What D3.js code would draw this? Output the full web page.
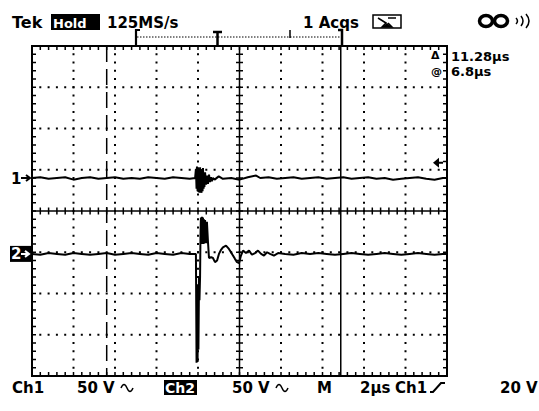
<!DOCTYPE html>
<html>
<head>
<meta charset="utf-8">
<script src="https://cdn.jsdelivr.net/npm/d3@7"></script>
<style>
  body { margin: 0; background: #fff; }
  text { font-family: 'DejaVu Sans', sans-serif; font-weight: bold; fill: #000; }
</style>
</head>
<body>
<script>
/* DATA */
// time in µs (0..20, 2 µs/div), volts (50 V/div)
var ch1Data = [
  [0,0],[0.4,1],[0.8,-1],[1.2,0],[1.6,1],[2.0,-2],[2.4,0],[2.8,1],[3.2,-1],[3.6,0],
  [4.0,1],[4.4,-1],[4.8,0],[5.2,-1],[5.6,1],[6.0,0],[6.4,-1],[6.8,1],[7.2,0],[7.6,-1],
  [7.86,0],[7.90,11],[7.93,-13],[7.95,14],[7.98,-16],[8.00,13],[8.02,-17],[8.05,11],
  [8.07,-18],[8.10,13],[8.12,-14],[8.14,11],[8.17,-18],[8.19,8],[8.22,-16],[8.24,12],
  [8.27,-13],[8.29,6],[8.31,-11],[8.34,7],[8.39,-8],[8.43,3],[8.48,-7],[8.53,4],
  [8.58,-5],[8.63,1],[8.67,-4],[8.72,0],
  [8.8,-2],[9.0,2],[9.2,-1],[9.6,0],[10.0,-2],[10.4,1],[10.8,3],[11.0,0],[11.4,1],
  [11.8,-1],[12.2,0],[12.6,1],[13.0,-1],[13.4,0],[13.8,1],[14.2,-1],[14.6,0],[15.0,1],
  [15.4,-1],[15.8,0],[16.2,1],[16.6,-1],[17.0,0],[17.4,-2],[17.8,-1],[18.2,0],[18.6,1],
  [19.0,-1],[19.4,-2],[19.8,0],[20,0]
];
var ch2Data = [
  [0,0],[0.4,-1],[0.8,1],[1.2,0],[1.6,-1],[2.0,1],[2.4,0],[2.8,-1],[3.2,0],[3.6,1],
  [4.0,-1],[4.4,0],[4.8,1],[5.2,0],[5.6,-1],[6.0,1],[6.4,0],[6.8,-1],[7.2,1],[7.6,0],
  [7.9,0],[7.93,-132],[7.95,-44],[7.98,-131],[8.00,-38],[8.02,-116],[8.05,-29],
  [8.07,-56],[8.10,-27],[8.12,23],[8.14,44],[8.17,12],[8.19,45],[8.22,12],[8.24,44],
  [8.27,12],[8.29,42],[8.31,13],[8.34,41],[8.39,13],[8.43,39],[8.48,15],[8.53,-5],
  [8.63,-4],[8.72,-5],[8.82,-10],[8.92,-8],[9.01,0],[9.11,5],[9.20,8],[9.35,10],
  [9.49,6],[9.64,0],[9.78,-6],[9.88,-10],[9.98,-11],[10.07,-2],[10.17,4],[10.31,1],
  [10.46,4],[10.60,-1],[10.75,1],[10.89,4],[11.04,0],[11.18,-2],[11.33,2],[11.47,0],
  [11.66,-2],[11.86,1],[12.2,0],[12.6,-1],[13.0,1],[13.4,0],[13.8,1],[14.2,0],[14.6,-1],
  [15.0,0],[15.4,1],[15.8,0],[16.2,-1],[16.6,0],[17.0,1],[17.4,0],[17.8,-1],[18.2,0],
  [18.6,1],[19.0,0],[19.4,-1],[19.8,0],[20,0]
];
var ch1Position = 0.8;    // divisions above centre
var ch2Position = -1.04;
var voltsPerDiv = [50, 50];
var cursorTimes = [3.6, 14.88];
var triggerLevelDiv = 1.17;

/* SETUP */
var width = 539, height = 411;
var X0 = 32, X1 = 447, Y0 = 46, Y1 = 376;

var xDiv = d3.scaleLinear().domain([0, 10]).range([X0, X1]);
var yDiv = d3.scaleLinear().domain([-4, 4]).range([Y1, Y0]);
var xTime = d3.scaleLinear().domain([0, 20]).range([X0, X1]);

var svg = d3.select('body').append('svg')
  .attr('width', width)
  .attr('height', height);

svg.append('rect').attr('width', width).attr('height', height).attr('fill', '#fff');

var grid = svg.append('g');

// dotted graticule
var minor = d3.range(0, 51).map(d => d / 5);   // 0..10 by 0.2
var minorY = d3.range(-20, 21).map(d => d / 5);
[1, 2, 3, 4, 6, 7, 8, 9].forEach(k => {
  grid.selectAll(null).data(minorY.slice(1, -1)).enter().append('rect')
    .attr('x', xDiv(k) - 1).attr('y', d => yDiv(d) - 1)
    .attr('width', 2).attr('height', 2).attr('fill', '#000');
});
[-3, -2, -1, 1, 2, 3].forEach(k => {
  grid.selectAll(null).data(minor.slice(1, -1)).enter().append('rect')
    .attr('x', d => xDiv(d) - 1).attr('y', yDiv(k) - 1)
    .attr('width', 2).attr('height', 2).attr('fill', '#000');
});

// centre axes with ticks
grid.append('line').attr('x1', X0).attr('x2', X1).attr('y1', yDiv(0)).attr('y2', yDiv(0))
  .attr('stroke', '#000').attr('stroke-width', 1.5);
grid.append('line').attr('x1', xDiv(5)).attr('x2', xDiv(5)).attr('y1', Y0).attr('y2', Y1)
  .attr('stroke', '#000').attr('stroke-width', 1.5);
grid.selectAll(null).data(minor).enter().append('line')
  .attr('x1', d => xDiv(d)).attr('x2', d => xDiv(d))
  .attr('y1', yDiv(0) - 3.5).attr('y2', yDiv(0) + 3.5)
  .attr('stroke', '#000').attr('stroke-width', 1.5);
grid.selectAll(null).data(minorY).enter().append('line')
  .attr('x1', xDiv(5) - 3.5).attr('x2', xDiv(5) + 3.5)
  .attr('y1', d => yDiv(d)).attr('y2', d => yDiv(d))
  .attr('stroke', '#000').attr('stroke-width', 1.5);

// border with inward ticks
grid.append('rect').attr('x', X0).attr('y', Y0).attr('width', X1 - X0).attr('height', Y1 - Y0)
  .attr('fill', 'none').attr('stroke', '#000').attr('stroke-width', 2);
grid.selectAll(null).data(minor).enter().append('path')
  .attr('d', d => `M${xDiv(d)},${Y0}v4M${xDiv(d)},${Y1}v-4`)
  .attr('stroke', '#000').attr('stroke-width', 1.5);
grid.selectAll(null).data(minorY).enter().append('path')
  .attr('d', d => `M${X0},${yDiv(d)}h4M${X1},${yDiv(d)}h-4`)
  .attr('stroke', '#000').attr('stroke-width', 1.5);

// cursors
grid.append('line').attr('x1', xTime(cursorTimes[0])).attr('x2', xTime(cursorTimes[0]))
  .attr('y1', Y0).attr('y2', Y1).attr('stroke', '#000').attr('stroke-width', 1.5)
  .attr('stroke-dasharray', '16,7');
grid.append('line').attr('x1', xTime(cursorTimes[1])).attr('x2', xTime(cursorTimes[1]))
  .attr('y1', Y0).attr('y2', Y1).attr('stroke', '#000').attr('stroke-width', 1.5);

/* TRACES */
var line1 = d3.line()
  .x(d => xTime(d[0]))
  .y(d => yDiv(ch1Position + d[1] / voltsPerDiv[0]));
var line2 = d3.line()
  .x(d => xTime(d[0]))
  .y(d => yDiv(ch2Position + d[1] / voltsPerDiv[1]));

svg.append('path').attr('d', line1(ch1Data)).attr('fill', 'none')
  .attr('stroke', '#000').attr('stroke-width', 2).attr('stroke-linejoin', 'bevel');
svg.append('path').attr('d', line2(ch2Data)).attr('fill', 'none')
  .attr('stroke', '#000').attr('stroke-width', 2).attr('stroke-linejoin', 'bevel');

/* CHANNEL / TRIGGER MARKERS */
var y1g = yDiv(ch1Position), y2g = yDiv(ch2Position);
svg.append('text').attr('x', 11).attr('y', y1g + 5.5).style('font-size', '15px').text('1');
svg.append('path').attr('d', `M21,${y1g}h9M26,${y1g - 3}l4,3l-4,3`)
  .attr('stroke', '#000').attr('stroke-width', 2).attr('fill', 'none');
svg.append('rect').attr('x', 10).attr('y', y2g - 8).attr('width', 22).attr('height', 16).attr('fill', '#000');
svg.append('text').attr('x', 11).attr('y', y2g + 5.5).style('font-size', '15px')
  .style('fill', '#fff').text('2');
svg.append('path').attr('d', `M21,${y2g}h8M25,${y2g - 3}l4,3l-4,3`)
  .attr('stroke', '#fff').attr('stroke-width', 2).attr('fill', 'none');

var yTrig = yDiv(triggerLevelDiv);
svg.append('path').attr('d', `M433,${yTrig}l6,-5v10z`).attr('fill', '#000');
svg.append('line').attr('x1', 438).attr('x2', 443).attr('y1', yTrig).attr('y2', yTrig)
  .attr('stroke', '#000').attr('stroke-width', 2);

/* HEADER */
var hdr = svg.append('g').style('font-size', '15px');
hdr.append('text').attr('x', 12).attr('y', 28).style('font-size', '16px').text('Tek');
hdr.append('rect').attr('x', 51).attr('y', 14).attr('width', 49).attr('height', 16).attr('fill', '#000');
hdr.append('text').attr('x', 53).attr('y', 28).style('fill', '#fff').style('font-size', '13px').text('Hold');
hdr.append('text').attr('x', 107).attr('y', 28).text('125MS/s');
hdr.append('text').attr('x', 303).attr('y', 28).text('1 Acqs');
// acquisition icon
hdr.append('rect').attr('x', 373).attr('y', 15).attr('width', 28).attr('height', 13)
  .attr('fill', 'none').attr('stroke', '#000').attr('stroke-width', 1.5);
hdr.append('path').attr('d', 'M378,18l8,5l-4,4h10l-4,-4M388,18l8,0')
  .attr('stroke', '#000').attr('stroke-width', 1.5).attr('fill', 'none');
hdr.append('path').attr('d', 'M382,27l5,-4l5,4z').attr('fill', '#000');
// infinity + sound
hdr.append('ellipse').attr('cx', 486).attr('cy', 21).attr('rx', 6.5).attr('ry', 5.5)
  .attr('fill', 'none').attr('stroke', '#000').attr('stroke-width', 3.5);
hdr.append('ellipse').attr('cx', 501).attr('cy', 21).attr('rx', 6.5).attr('ry', 5.5)
  .attr('fill', 'none').attr('stroke', '#000').attr('stroke-width', 3.5);
hdr.append('path').attr('d', 'M516,18q3,3 0,6M521,16q4,5 0,10M526,14q6,7 0,14')
  .attr('stroke', '#000').attr('stroke-width', 1.5).attr('fill', 'none');

// record bar
var rb = svg.append('g').attr('stroke', '#000').attr('fill', 'none');
rb.append('line').attr('x1', 137).attr('x2', 342).attr('y1', 37).attr('y2', 37)
  .attr('stroke-width', 1).attr('stroke-dasharray', '1.5,1.5');
rb.append('path').attr('d', 'M140,30h-4v16').attr('stroke-width', 2.2);
rb.append('path').attr('d', 'M213,32h9M217.5,32v14').attr('stroke-width', 2.5);
rb.append('path').attr('d', 'M290,30v8').attr('stroke-width', 1.5);
rb.append('path').attr('d', 'M338,30h4v16').attr('stroke-width', 2.5);

// cursor readouts
svg.append('text').attr('x', 431).attr('y', 59).style('font-size', '11px').text('Δ');
svg.append('text').attr('x', 451).attr('y', 61).style('font-size', '13px').text('11.28µs');
svg.append('text').attr('x', 431).attr('y', 75).style('font-size', '11px').text('@');
svg.append('text').attr('x', 451).attr('y', 76).style('font-size', '13px').text('6.8µs');

/* FOOTER */
var ft = svg.append('g').style('font-size', '15px');
ft.append('text').attr('x', 12).attr('y', 393).text('Ch1');
ft.append('text').attr('x', 77).attr('y', 393).text('50 V');
ft.append('rect').attr('x', 164).attr('y', 380).attr('width', 33).attr('height', 15).attr('fill', '#000');
ft.append('text').attr('x', 165).attr('y', 393).style('fill', '#fff').style('font-size', '14px').text('Ch2');
ft.append('text').attr('x', 232).attr('y', 393).text('50 V');
ft.append('text').attr('x', 317).attr('y', 393).text('M');
ft.append('text').attr('x', 360).attr('y', 393).text('2µs');
ft.append('text').attr('x', 395).attr('y', 393).text('Ch1');
ft.append('text').attr('x', 500).attr('y', 393).text('20 V');
// coupling symbols (AC) and slope
[121, 276].forEach(x0 => {
  ft.append('path').attr('d', `M${x0},388q3,-7 6,0t6,0`)
    .attr('stroke', '#000').attr('stroke-width', 1.5).attr('fill', 'none');
});
ft.append('path').attr('d', 'M430,392h3l8,-9h4')
  .attr('stroke', '#000').attr('stroke-width', 2).attr('fill', 'none');
</script>
</body>
</html>
